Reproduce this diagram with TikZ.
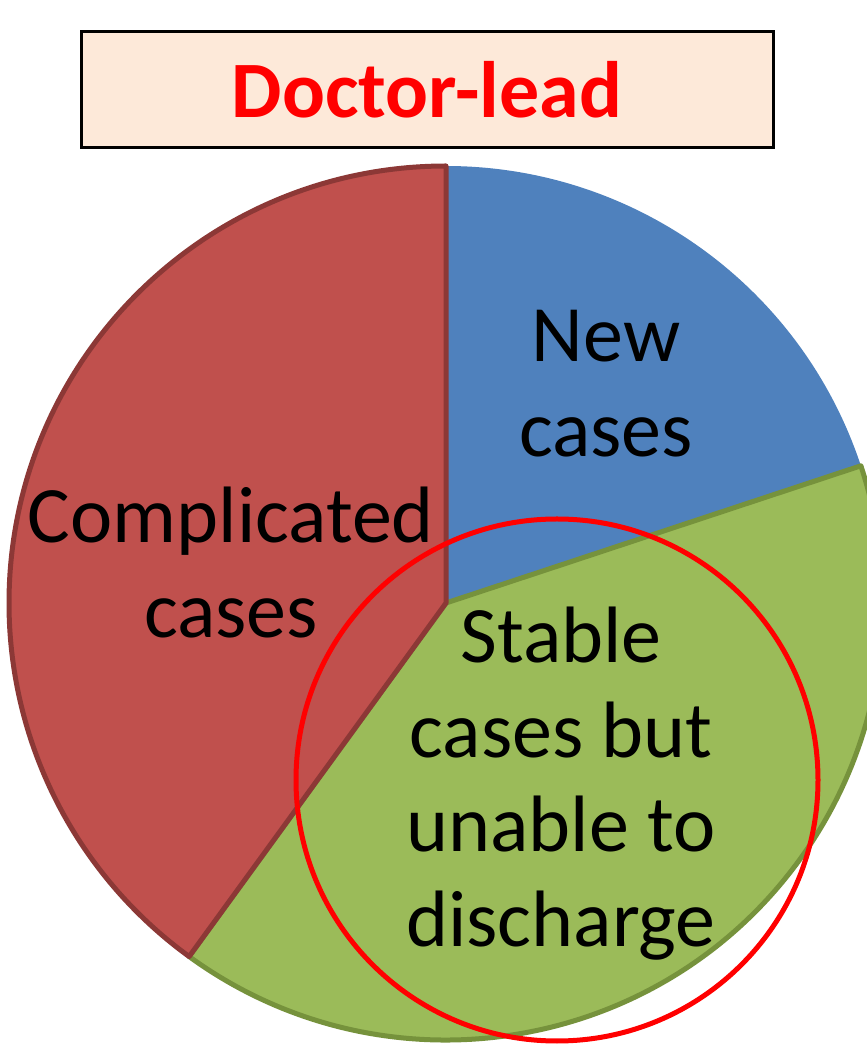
\documentclass[tikz,border=0pt]{standalone}
\usepackage{fontspec}
\setmainfont{Carlito}
\definecolor{slicered}{HTML}{C0504D}
\definecolor{slicereddark}{HTML}{8C3836}
\definecolor{sliceblue}{HTML}{4F81BD}
\definecolor{slicegreen}{HTML}{9BBB59}
\definecolor{slicegreendark}{HTML}{76923C}
\definecolor{titlefill}{HTML}{FDE9D9}
\definecolor{titlered}{HTML}{FF0000}
\tikzset{
  bigtext/.style={font=\fontsize{80}{95}\selectfont, align=center, inner sep=0pt, anchor=base},
  titlebox/.style={draw=black, line width=3pt, fill=titlefill},
}
\begin{document}
\begin{tikzpicture}[x=1pt,y=1pt]
\useasboundingbox (0,0) rectangle (867,1045);
\clip (0,0) rectangle (867,1045);
\coordinate (c) at (446,442);
% title
\draw[titlebox] (81,897) rectangle (773,1013);
\node[font=\fontsize{80}{95}\selectfont\bfseries, text=titlered, inner sep=0pt, anchor=base] (title) at (427,927) {Doctor-lead};
% pie slices
\fill[sliceblue] (c) -- ++(18.3:437) arc[start angle=18.3, end angle=90, radius=437] -- cycle;
\filldraw[fill=slicegreen, draw=slicegreendark, line width=5pt, line join=round] (c) -- ++(234:437) arc[start angle=234, end angle=378.3, radius=437] -- cycle;
\filldraw[fill=slicered, draw=slicereddark, line width=5pt, line join=round] (c) -- ++(90:437) arc[start angle=90, end angle=234, radius=437] -- cycle;
% labels (anchor = baseline of last line)
\node[bigtext] (newc) at (606,588) {New\\cases};
\node[bigtext] (compl) at (231,407) {Complicated\\cases};
\node[bigtext] (stable) at (561,98) {Stable\\cases but\\unable to\\discharge};
% highlight circle
\draw[titlered, line width=5pt] (557,265) circle[radius=261];
\end{tikzpicture}
\end{document}
